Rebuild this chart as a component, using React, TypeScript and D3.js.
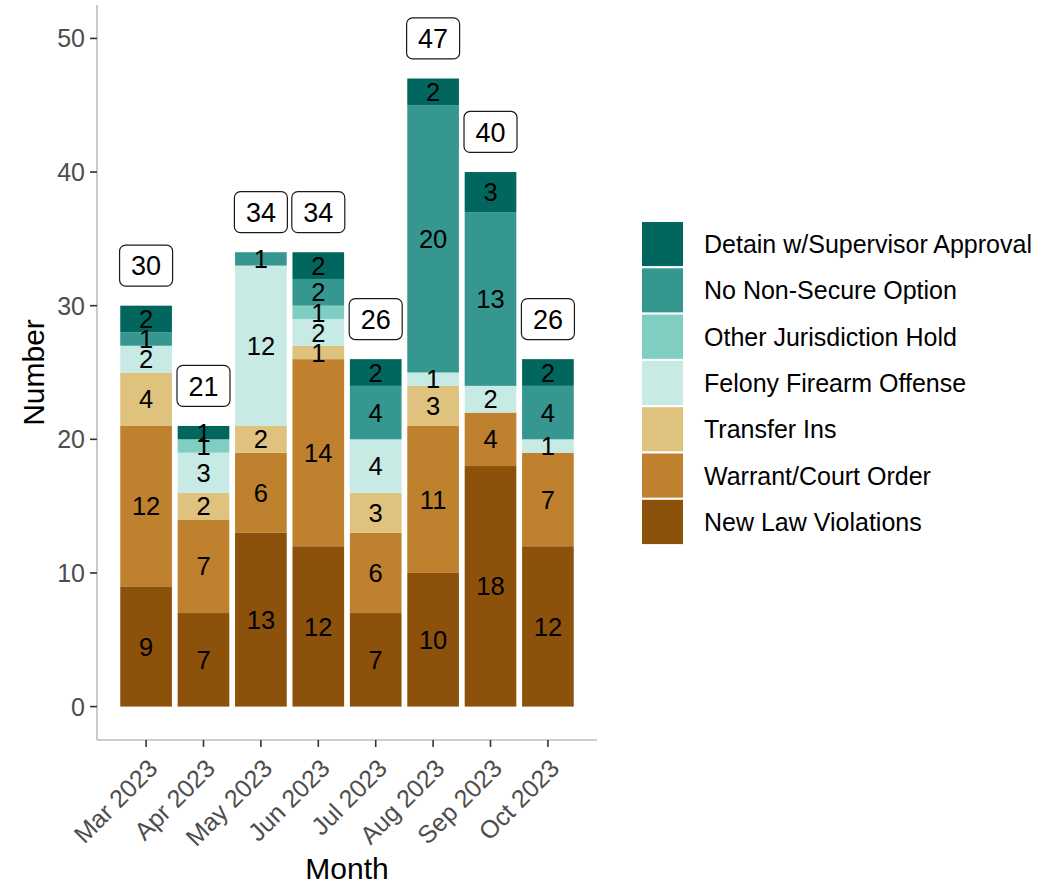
import { useEffect, useRef } from 'react'
import * as d3 from 'd3'

const months = ['Mar 2023', 'Apr 2023', 'May 2023', 'Jun 2023', 'Jul 2023', 'Aug 2023', 'Sep 2023', 'Oct 2023']

// bottom to top
const categories = [
  'New Law Violations',
  'Warrant/Court Order',
  'Transfer Ins',
  'Felony Firearm Offense',
  'Other Jurisdiction Hold',
  'No Non-Secure Option',
  'Detain w/Supervisor Approval',
]

const newLaw = [9, 7, 13, 12, 7, 10, 18, 12]
const warrant = [12, 7, 6, 14, 6, 11, 4, 7]
const transferIns = [4, 2, 2, 1, 3, 3, 0, 0]
const felonyFirearm = [2, 3, 12, 2, 4, 1, 2, 1]
const otherJurisdiction = [0, 1, 0, 1, 0, 0, 0, 0]
const noNonSecure = [1, 0, 1, 2, 4, 20, 13, 4]
const detainSupervisor = [2, 1, 0, 2, 2, 2, 3, 2]

const yTicks = [0, 10, 20, 30, 40, 50]

const colors = ['#8c510a', '#bf812d', '#dfc27d', '#c7eae5', '#80cdc1', '#35978f', '#01665e']

const FONT = '"Liberation Sans", Arial, sans-serif'

const App = () => {
  const svgRef = useRef<SVGSVGElement | null>(null)

  useEffect(() => {
    if (!svgRef.current) return
    const svg = d3.select(svgRef.current)
    svg.selectAll('*').remove()

    const panel = { left: 97, right: 597, top: 5, bottom: 740 }

    const series = [newLaw, warrant, transferIns, felonyFirearm, otherJurisdiction, noNonSecure, detainSupervisor]
    const table = months.map((m, i) => {
      const row: Record<string, number | string> = { month: m }
      categories.forEach((c, k) => (row[c] = series[k][i]))
      return row
    })
    const totals = months.map((_, i) => d3.sum(series, (s) => s[i]))

    const stacked = d3.stack<Record<string, number | string>>().keys(categories)(table as any)

    const x = d3
      .scaleBand<string>()
      .domain(months)
      .range([panel.left, panel.right])
      .paddingInner(0.1)
      .paddingOuter(0.405)

    const y = d3.scaleLinear().domain([-2.5, 52.5]).range([panel.bottom, panel.top])

    const color = d3.scaleOrdinal<string, string>().domain(categories).range(colors)

    // bars
    const layer = svg
      .append('g')
      .selectAll('g')
      .data(stacked)
      .enter()
      .append('g')
      .attr('fill', (d) => color(d.key))

    layer
      .selectAll('rect')
      .data((d) => d.map((p) => ({ p, key: d.key })))
      .enter()
      .filter((d) => d.p[1] - d.p[0] > 0)
      .append('rect')
      .attr('x', (d) => x(d.p.data.month as string)!)
      .attr('width', x.bandwidth())
      .attr('y', (d) => y(d.p[1]))
      .attr('height', (d) => y(d.p[0]) - y(d.p[1]))

    // segment labels
    const segLabels: { month: string; mid: number; v: number }[] = []
    stacked.forEach((s) =>
      s.forEach((p) => {
        const v = p[1] - p[0]
        if (v > 0) segLabels.push({ month: p.data.month as string, mid: (p[0] + p[1]) / 2, v })
      })
    )
    svg
      .append('g')
      .selectAll('text')
      .data(segLabels)
      .enter()
      .append('text')
      .attr('x', (d) => x(d.month)! + x.bandwidth() / 2)
      .attr('y', (d) => y(d.mid))
      .attr('dy', '0.36em')
      .attr('text-anchor', 'middle')
      .attr('font-family', FONT)
      .attr('font-size', 25.5)
      .attr('fill', '#000')
      .text((d) => d.v)

    // total labels
    const tot = svg
      .append('g')
      .selectAll('g')
      .data(months.map((m, i) => ({ m, t: totals[i] })))
      .enter()
      .append('g')
      .attr('transform', (d) => `translate(${x(d.m)! + x.bandwidth() / 2},${y(d.t + 3)})`)
    tot
      .append('rect')
      .attr('x', -26.5)
      .attr('y', -20.5)
      .attr('width', 53)
      .attr('height', 41)
      .attr('rx', 6)
      .attr('fill', '#fff')
      .attr('stroke', '#1a1a1a')
      .attr('stroke-width', 1.2)
    tot
      .append('text')
      .attr('text-anchor', 'middle')
      .attr('dy', '0.36em')
      .attr('font-family', FONT)
      .attr('font-size', 27)
      .attr('fill', '#000')
      .text((d) => d.t)

    // axes
    const axisColor = '#bdbdbd'
    svg
      .append('line')
      .attr('x1', panel.left)
      .attr('x2', panel.left)
      .attr('y1', panel.top)
      .attr('y2', panel.bottom)
      .attr('stroke', axisColor)
      .attr('stroke-width', 1.6)
    svg
      .append('line')
      .attr('x1', panel.left)
      .attr('x2', panel.right)
      .attr('y1', panel.bottom)
      .attr('y2', panel.bottom)
      .attr('stroke', axisColor)
      .attr('stroke-width', 1.6)

    const yAxis = svg.append('g')
    yTicks.forEach((t) => {
      yAxis
        .append('line')
        .attr('x1', panel.left - 7)
        .attr('x2', panel.left)
        .attr('y1', y(t))
        .attr('y2', y(t))
        .attr('stroke', '#333')
        .attr('stroke-width', 1.6)
      yAxis
        .append('text')
        .attr('x', panel.left - 12)
        .attr('y', y(t))
        .attr('dy', '0.36em')
        .attr('text-anchor', 'end')
        .attr('font-family', FONT)
        .attr('font-size', 25)
        .attr('fill', '#4d4d4d')
        .text(t)
    })

    const xAxis = svg.append('g')
    months.forEach((m) => {
      const cx = x(m)! + x.bandwidth() / 2
      xAxis
        .append('line')
        .attr('x1', cx)
        .attr('x2', cx)
        .attr('y1', panel.bottom)
        .attr('y2', panel.bottom + 7)
        .attr('stroke', '#333')
        .attr('stroke-width', 1.6)
      xAxis
        .append('text')
        .attr('transform', `translate(${cx + 13},${panel.bottom + 30}) rotate(-45)`)
        .attr('text-anchor', 'end')
        .attr('font-family', FONT)
        .attr('font-size', 25)
        .attr('fill', '#4d4d4d')
        .text(m)
    })

    svg
      .append('text')
      .attr('x', (panel.left + panel.right) / 2)
      .attr('y', 879)
      .attr('text-anchor', 'middle')
      .attr('font-family', FONT)
      .attr('font-size', 30)
      .attr('fill', '#000')
      .text('Month')

    svg
      .append('text')
      .attr('transform', `translate(44,${(panel.top + panel.bottom) / 2}) rotate(-90)`)
      .attr('text-anchor', 'middle')
      .attr('font-family', FONT)
      .attr('font-size', 30)
      .attr('fill', '#000')
      .text('Number')

    // legend (top to bottom reversed order)
    const legendItems = categories.slice().reverse()
    const lg = svg.append('g').attr('transform', 'translate(641,221)')
    const keyH = 46.3
    legendItems.forEach((c, i) => {
      lg.append('rect')
        .attr('x', 0)
        .attr('y', i * keyH)
        .attr('width', 43)
        .attr('height', keyH)
        .attr('fill', color(c))
        .attr('stroke', '#fff')
        .attr('stroke-width', 2)
      lg.append('text')
        .attr('x', 63)
        .attr('y', i * keyH + keyH / 2)
        .attr('dy', '0.36em')
        .attr('font-family', FONT)
        .attr('font-size', 25)
        .attr('fill', '#000')
        .text(c)
    })
  }, [])

  return (
    <svg
      ref={svgRef}
      width={1061}
      height={885}
      style={{ position: 'absolute', left: 0, top: 0, background: '#fff' }}
    />
  )
}

export default App
